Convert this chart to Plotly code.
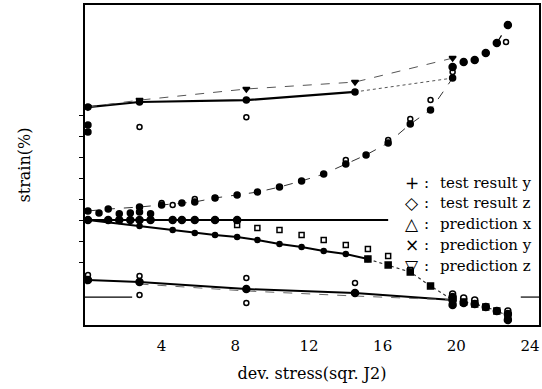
import plotly.graph_objects as go

# ---------------- data (strain in %, arbitrary baseline) ----------------
top_x = [0, 2.8, 8.6, 14.5]
top_y = [1.038, 1.062, 1.071, 1.110]
top_ext_x = [14.5, 19.8]
top_ext_y = [1.110, 1.176]
top_pred_x = [0, 2.8, 8.6, 14.5, 19.8]
top_pred_y = [1.038, 1.071, 1.124, 1.157, 1.271]

branch_x = [19.8, 20.4, 21.0, 21.6, 22.2, 22.8]
branch_y = [1.229, 1.252, 1.262, 1.295, 1.343, 1.429]
branch_open_x = [19.8, 22.7]
branch_open_y = [1.205, 1.348]

rise_x = [0, 1.1, 2.8, 4.0, 5.1, 5.8, 6.9, 8.1, 9.2, 10.4, 11.6, 12.8, 14.0, 15.1, 16.3, 17.5, 18.6, 19.8]
rise_y = [0.543, 0.552, 0.562, 0.571, 0.581, 0.586, 0.605, 0.619, 0.633, 0.657, 0.686, 0.719, 0.767, 0.810, 0.867, 0.957, 1.024, 1.176]
rise_open_x = [4.0, 4.6, 5.8, 6.9, 14.0, 16.3, 17.5, 18.6]
rise_open_y = [0.581, 0.571, 0.600, 0.605, 0.786, 0.881, 0.981, 1.071]

flat_x = [0, 16.3]
flat_y = [0.5, 0.5]
flat_pts_x = [0, 1.1, 1.7, 2.3, 2.8, 3.4, 4.6, 5.1, 5.8, 6.9, 8.1]
flat_pts_y = [0.5, 0.5, 0.5, 0.5, 0.5, 0.5, 0.5, 0.5, 0.5, 0.5, 0.5]
cluster_x = [0.6, 1.7, 2.3, 2.8, 3.4]
cluster_y = [0.533, 0.530, 0.533, 0.538, 0.530]

dec_x = [0, 2.8, 4.6, 5.8, 6.9, 8.1, 9.2, 10.4, 11.6, 12.8, 14.0, 15.2]
dec_y = [0.5, 0.471, 0.452, 0.438, 0.429, 0.419, 0.405, 0.386, 0.371, 0.352, 0.338, 0.314]
dec_ext_x = [15.2, 16.3, 17.5, 18.6, 19.8, 20.4, 21.0, 21.6, 22.2, 22.8]
dec_ext_y = [0.314, 0.286, 0.252, 0.186, 0.119, 0.110, 0.100, 0.086, 0.067, 0.043]
dec_open_x = [8.1, 9.2, 10.4, 11.6, 12.8, 14.0, 15.2, 16.3, 17.5]
dec_open_y = [0.476, 0.462, 0.452, 0.429, 0.405, 0.381, 0.362, 0.329, 0.262]

low_x = [0, 2.8, 8.6, 14.5, 19.8]
low_y = [0.214, 0.205, 0.171, 0.152, 0.119]
low_pred_x = [2.8, 8.6, 14.5, 19.8]
low_pred_y = [0.195, 0.162, 0.138, 0.119]
low_open_x = [0, 2.8, 2.8, 8.6, 8.6, 14.5]
low_open_y = [0.238, 0.233, 0.143, 0.224, 0.105, 0.200]

end_x = [19.8, 19.8, 20.4, 21.0, 21.6, 22.2, 22.8, 22.8]
end_y = [0.133, 0.095, 0.105, 0.100, 0.086, 0.067, 0.052, 0.024]
end_open_x = [19.8, 20.4, 21.0, 22.8]
end_open_y = [0.148, 0.129, 0.119, 0.067]

iso_x = [0, 0]
iso_y = [0.952, 0.919]
iso_open_x = [2.8, 8.6]
iso_open_y = [0.943, 0.990]

ref_left_x = [-0.16, 2.4]
ref_right_x = [23.5, 24.5]
ref_y = [0.133, 0.133]

legend_symbols = ["+", "◇", "△", "×", "▽"]
legend_labels = ["test result y", "test result z", "prediction x", "prediction y", "prediction z"]
legend_rows_y = [0.676, 0.581, 0.481, 0.381, 0.281]

x_ticks = [4, 8, 12, 16, 20, 24]
y_ticks = [0.3, 0.4, 0.5, 0.6, 0.7, 0.8, 0.9, 1.0]

# ---------------- figure ----------------
fig = go.Figure()
BLACK = "black"

def line(x, y, dash="solid", width=2, color=BLACK):
    fig.add_trace(go.Scatter(x=x, y=y, mode="lines",
                             line=dict(color=color, width=width, dash=dash),
                             hoverinfo="skip", showlegend=False))

def pts(x, y, symbol="circle", size=6, color=BLACK):
    fig.add_trace(go.Scatter(x=x, y=y, mode="markers",
                             marker=dict(symbol=symbol, size=size, color=color,
                                         line=dict(color=color, width=1.5)),
                             hoverinfo="skip", showlegend=False))

# lines
line(top_x, top_y, "solid", 2.2)
line(top_ext_x, top_ext_y, "dot", 1, "#555")
line(top_pred_x, top_pred_y, "dash", 1, "#555")
line(branch_x[-2:], branch_y[-2:], "dash", 1.2)
line(rise_x, rise_y, "dash", 1, "#333")
line(flat_x, flat_y, "solid", 2)
line(dec_x, dec_y, "solid", 2)
line(dec_ext_x, dec_ext_y, "dot", 1.2, "#333")
line(low_x, low_y, "solid", 2)
line(low_pred_x, low_pred_y, "dash", 1, "#666")
line(ref_left_x, ref_y, "solid", 1.2)
line(ref_right_x, ref_y, "solid", 1.2)

# markers
pts(top_x, top_y)
pts(top_pred_x, top_pred_y, "triangle-down", 6)
pts(branch_x, branch_y, "circle", 7)
pts(branch_open_x, branch_open_y, "circle-open", 5)
pts(rise_x, rise_y, "circle", 6)
pts(rise_open_x, rise_open_y, "circle-open", 5)
pts(flat_pts_x, flat_pts_y, "circle", 7)
pts(cluster_x, cluster_y, "circle", 6)
pts(dec_x, dec_y, "circle", 5)
pts(dec_ext_x, dec_ext_y, "square", 6)
pts(dec_open_x, dec_open_y, "square-open", 5)
pts(low_x, low_y, "circle", 7)
pts(low_open_x, low_open_y, "circle-open", 5)
pts(end_x, end_y, "circle", 7)
pts(end_open_x, end_open_y, "circle-open", 6)
pts(iso_x, iso_y, "circle", 6)
pts(iso_open_x, iso_open_y, "circle-open", 5)

SERIF = "DejaVu Serif"
for sym, lab, yy in zip(legend_symbols, legend_labels, legend_rows_y):
    fig.add_annotation(x=17.57, y=yy, xref="x", yref="y", text=sym,
                       showarrow=False, xanchor="center", yanchor="middle",
                       font=dict(family="DejaVu Sans", size=17, color=BLACK))
    fig.add_annotation(x=18.38, y=yy, xref="x", yref="y", text=":",
                       showarrow=False, xanchor="center", yanchor="middle",
                       font=dict(family=SERIF, size=15, color=BLACK))
    fig.add_annotation(x=19.0, y=yy, xref="x", yref="y", text=lab,
                       showarrow=False, xanchor="left", yanchor="middle",
                       font=dict(family=SERIF, size=15, color=BLACK))

fig.update_layout(
    width=542, height=389,
    margin=dict(l=85, r=1, t=5, b=64),
    paper_bgcolor="white", plot_bgcolor="white",
    font=dict(family=SERIF, size=15, color=BLACK),
    showlegend=False,
)
fig.update_xaxes(range=[-0.16, 24.49], tickvals=x_ticks, ticks="outside", ticklen=6,
                 tickcolor="rgba(0,0,0,0)", showgrid=False,
                 zeroline=False, showline=True, linecolor=BLACK, linewidth=2,
                 mirror=True, tickfont=dict(family=SERIF, size=15),
                 title=dict(text="dev. stress(sqr. J2)", font=dict(family=SERIF, size=16),
                            standoff=14))
fig.update_yaxes(range=[0, 1.524], tickvals=y_ticks, showticklabels=False,
                 ticks="outside", ticklen=4, tickwidth=1, tickcolor=BLACK,
                 showgrid=False, zeroline=False, showline=True, linecolor=BLACK,
                 linewidth=2, mirror=True,
                 title=dict(text="strain(%)", font=dict(family=SERIF, size=16),
                            standoff=44))

fig.write_html("out.html")
